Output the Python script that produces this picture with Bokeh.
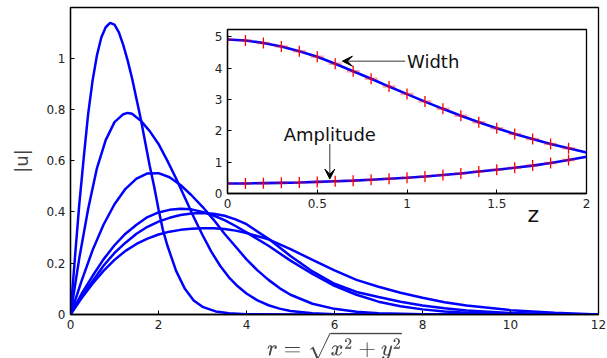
from bokeh.plotting import figure
from bokeh.models import Range1d, FixedTicker, Label, Arrow, VeeHead
from bokeh.layouts import column
from bokeh.embed import file_html
from bokeh.resources import INLINE

# ---------------- main plot data: |u| versus r ----------------
r1 = [0, 0.1, 0.2, 0.3, 0.4, 0.5, 0.6, 0.7, 0.8, 0.9, 1.0, 1.1, 1.2, 1.3, 1.4, 1.5, 1.6, 1.7,
      1.8, 1.9, 2.0, 2.1, 2.2, 2.4, 2.6, 2.8, 3.0, 3.3, 3.6, 4.0, 5.0, 12]
u1 = [0, 0.22, 0.43, 0.61, 0.78, 0.91, 1.01, 1.08, 1.12, 1.137, 1.13, 1.10, 1.05, 0.99, 0.92, 0.84,
      0.76, 0.67, 0.58, 0.50, 0.41, 0.33, 0.27, 0.17, 0.10, 0.055, 0.03, 0.012, 0.005, 0.001, 0, 0]
r2 = [0, 0.2, 0.4, 0.6, 0.8, 1.0, 1.2, 1.3, 1.4, 1.6, 1.8, 2.0, 2.2, 2.4, 2.6, 2.8, 3.0, 3.2,
      3.4, 3.6, 3.8, 4.0, 4.25, 4.5, 4.75, 5.0, 5.5, 6.0, 12]
u2 = [0, 0.22, 0.41, 0.57, 0.68, 0.75, 0.781, 0.786, 0.783, 0.755, 0.715, 0.665, 0.60, 0.53,
      0.455, 0.38, 0.31, 0.245, 0.19, 0.145, 0.11, 0.082, 0.055, 0.036, 0.023, 0.014, 0.005,
      0.001, 0]
r3 = [0, 0.25, 0.5, 0.75, 1.0, 1.25, 1.5, 1.75, 2.0, 2.25, 2.5, 2.75, 3.0, 3.25, 3.5, 3.75,
      4.0, 4.25, 4.5, 4.75, 5.0, 5.5, 6.0, 6.5, 7.0, 8.0, 12]
u3 = [0, 0.13, 0.25, 0.35, 0.43, 0.49, 0.53, 0.55, 0.551, 0.535, 0.505, 0.465, 0.42, 0.37,
      0.315, 0.265, 0.215, 0.172, 0.135, 0.103, 0.077, 0.042, 0.022, 0.011, 0.005, 0.001, 0]
r4 = [0, 0.25, 0.5, 0.75, 1.0, 1.25, 1.5, 1.75, 2.0, 2.25, 2.5, 2.75, 3.0, 3.25, 3.5, 3.75,
      4.0, 4.5, 5.0, 5.5, 6.0, 6.5, 7.0, 7.5, 8.0, 8.5, 9.0, 10, 11, 12]
u4 = [0, 0.08, 0.15, 0.215, 0.27, 0.315, 0.35, 0.38, 0.398, 0.408, 0.412, 0.41, 0.40, 0.386,
      0.368, 0.345, 0.32, 0.268, 0.21, 0.158, 0.112, 0.077, 0.05, 0.032, 0.02, 0.012, 0.007,
      0.002, 0.0005, 0]
r5 = [0, 0.25, 0.5, 0.75, 1.0, 1.25, 1.5, 1.75, 2.0, 2.25, 2.5, 2.75, 3.0, 3.25, 3.5, 3.75,
      4.0, 4.5, 5.0, 5.5, 6.0, 6.5, 7.0, 7.5, 8.0, 8.5, 9.0, 10, 11, 12]
u5 = [0, 0.07, 0.13, 0.19, 0.24, 0.28, 0.315, 0.342, 0.362, 0.377, 0.388, 0.394, 0.396, 0.393,
      0.385, 0.371, 0.352, 0.295, 0.228, 0.168, 0.12, 0.088, 0.068, 0.05, 0.035, 0.024, 0.016,
      0.006, 0.002, 0]
r6 = [0, 0.25, 0.5, 0.75, 1.0, 1.25, 1.5, 1.75, 2.0, 2.25, 2.5, 2.75, 3.0, 3.25, 3.5, 3.75,
      4.0, 4.5, 5.0, 5.5, 6.0, 6.5, 7.0, 7.5, 8.0, 8.5, 9.0, 10, 11, 12]
u6 = [0, 0.063, 0.12, 0.17, 0.213, 0.248, 0.275, 0.296, 0.312, 0.323, 0.33, 0.334, 0.336, 0.336,
      0.333, 0.327, 0.318, 0.293, 0.255, 0.213, 0.172, 0.135, 0.108, 0.085, 0.065, 0.048, 0.035,
      0.017, 0.007, 0]
curves_r = [r1, r2, r3, r4, r5, r6]
curves_u = [u1, u2, u3, u4, u5, u6]
main_xticks = [0, 2, 4, 6, 8, 10, 12]
main_yticks = [0, 0.2, 0.4, 0.6, 0.8, 1]

# ---------------- inset data: width and amplitude versus z ----------------
z = [0, 0.1, 0.2, 0.3, 0.4, 0.5, 0.6, 0.7, 0.8, 0.9, 1.0, 1.1, 1.2, 1.3, 1.4, 1.5, 1.6, 1.7,
     1.8, 1.9, 2.0]
width = [4.91, 4.88, 4.80, 4.69, 4.54, 4.36, 4.14, 3.90, 3.66, 3.41, 3.17, 2.93, 2.70, 2.48,
         2.27, 2.08, 1.90, 1.74, 1.58, 1.44, 1.31]
amplitude = [0.32, 0.32, 0.33, 0.34, 0.35, 0.37, 0.39, 0.41, 0.44, 0.47, 0.50, 0.54, 0.59, 0.64,
             0.70, 0.76, 0.82, 0.89, 0.97, 1.07, 1.17]
z_marks = z[:20]
width_marks = width[:20]
amplitude_marks = amplitude[:20]
inset_xticks = [0, 0.5, 1, 1.5, 2]
inset_yticks = [0, 1, 2, 3, 4, 5]

FONT = "DejaVu Sans"
BLUE = "#0000ff"
# borders shared by both figures (a column lines up its plots' borders)
B_LEFT, B_RIGHT, B_TOP, B_BOTTOM = 70, 8, 7, 43


def style_axis(ax, ticks, size="12px"):
    ax.ticker = FixedTicker(ticks=ticks)
    ax.axis_line_color = "black"
    ax.axis_line_width = 1.3
    ax.major_tick_line_color = "black"
    ax.major_tick_in = 4
    ax.major_tick_out = 0
    ax.minor_tick_line_color = None
    ax.major_label_text_font = FONT
    ax.major_label_text_color = "#222222"
    ax.major_label_text_font_size = size
    ax.major_label_standoff = 5


# ---------------- main figure ----------------
p = figure(frame_width=528, frame_height=307, output_backend="svg", toolbar_location=None,
           x_range=Range1d(0, 12), y_range=Range1d(0, 1.197),
           min_border_left=B_LEFT, min_border_right=B_RIGHT, min_border_top=B_TOP,
           min_border_bottom=B_BOTTOM)
p.outline_line_color = "black"
p.outline_line_width = 1.3
p.xgrid.visible = False
p.ygrid.visible = False
style_axis(p.xaxis[0], main_xticks)
style_axis(p.yaxis[0], main_yticks)
p.xaxis[0].major_label_standoff = 5
p.xaxis[0].axis_label = r"$$r=\sqrt{x^2+y^2}$$"
p.xaxis[0].axis_label_standoff = 0
p.xaxis[0].axis_label_text_font_size = "18px"
p.yaxis[0].axis_label = "|u|"
p.yaxis[0].axis_label_text_font = FONT
p.yaxis[0].axis_label_text_font_style = "normal"
p.yaxis[0].axis_label_text_font_size = "18px"
p.yaxis[0].axis_label_standoff = 11

for rr, uu in zip(curves_r, curves_u):
    p.line(rr, uu, line_color=BLUE, line_width=2.5)

# inset's axis name, placed where the reference shows it (below the inset box)
p.add_layout(Label(x=10.52, y=0.39, text="z", text_font=FONT, text_font_size="22px",
                   text_baseline="middle", text_align="center", text_color="#111111"))

# ---------------- inset figure ----------------
q = figure(frame_width=359, frame_height=164, output_backend="svg", toolbar_location=None,
           x_range=Range1d(0, 2), y_range=Range1d(0, 5.23),
           min_border_left=B_LEFT, min_border_right=B_RIGHT, min_border_top=B_TOP,
           min_border_bottom=B_BOTTOM)
q.border_fill_alpha = 0
q.background_fill_color = "white"
q.outline_line_color = "black"
q.outline_line_width = 1.3
q.xgrid.visible = False
q.ygrid.visible = False
style_axis(q.xaxis[0], inset_xticks)
style_axis(q.yaxis[0], inset_yticks)

for series, marks in ((width, width_marks), (amplitude, amplitude_marks)):
    q.line(z, series, line_color=BLUE, line_width=2.6)
    q.scatter(z_marks, marks, marker="dash", size=13, line_color="red", line_alpha=0.35,
              line_width=2.5)
    q.scatter(z_marks, marks, marker="dash", angle=1.5708, size=11, line_color="red",
              line_width=1.3)

q.add_layout(Arrow(end=VeeHead(size=10, fill_color="black", line_color="black"),
                   x_start=0.99, y_start=4.22, x_end=0.64, y_end=4.22,
                   line_color="#333333", line_width=1))
q.add_layout(Label(x=1.0, y=4.22, text="Width", text_font=FONT, text_font_size="18px",
                   text_baseline="middle", text_align="left", text_color="#111111"))
q.add_layout(Arrow(end=VeeHead(size=10, fill_color="black", line_color="black"),
                   x_start=0.57, y_start=1.58, x_end=0.57, y_end=0.46,
                   line_color="#333333", line_width=1))
q.add_layout(Label(x=0.57, y=1.88, text="Amplitude", text_font=FONT, text_font_size="18px",
                   text_baseline="middle", text_align="center", text_color="#111111"))

q.margin = (-341, 0, 0, 157)
p.margin = 0
layout = column(p, q)
layout.margin = 0

open("out.html", "w").write(file_html(layout, INLINE))
